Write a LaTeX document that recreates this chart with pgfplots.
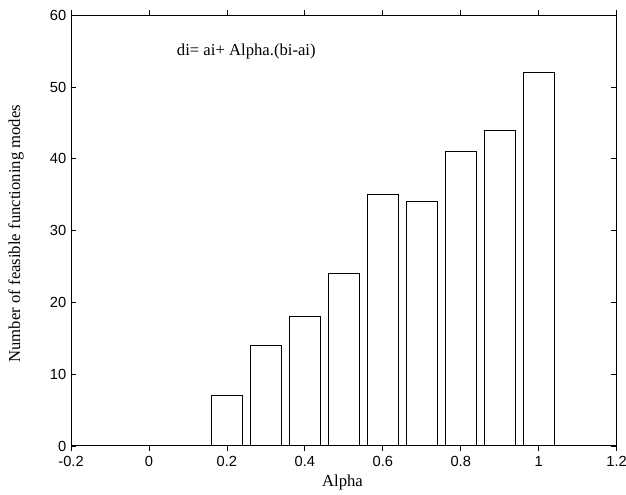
\documentclass[border=0pt]{standalone}
\usepackage{fontspec}
\setmainfont{Liberation Serif}
\newfontfamily\tickfont{Liberation Sans}
\usepackage{pgfplots}
\pgfplotsset{compat=1.18}
\usetikzlibrary{calc}

\begin{document}
\begin{tikzpicture}
\begin{axis}[
    scale only axis,
    width=409pt,
    height=322.8pt,
    xmin=-0.2, xmax=1.2,
    ymin=0, ymax=60,
    xtick={-0.2,0,0.2,0.4,0.6,0.8,1,1.2},
    ytick={0,10,20,30,40,50,60},
    tick align=inside,
    major tick length=4pt,
    tick style={black, line width=0.6pt},
    axis line style={black, line width=0.75pt},
    axis on top,
    /pgf/number format/assume math mode=true,
    ticklabel style={font=\tickfont\fontsize{11}{13}\selectfont},
    xlabel={Alpha},
    ylabel={Number of feasible functioning modes},
    label style={font=\fontsize{12.5}{15}\selectfont},
    xlabel style={at={(axis description cs:0.4975,-0.085)}, anchor=center},
    ylabel style={at={(axis description cs:-0.1008,0.493)}, anchor=center},
    ybar,
    bar width=0.08,
]
\addplot[fill=white, draw=black, line width=0.75pt] coordinates {
    (0.2,7) (0.3,14) (0.4,18) (0.5,24) (0.6,35)
    (0.7,34) (0.8,41) (0.9,44) (1.0,52)
};
\node[anchor=west, inner sep=0pt, font=\fontsize{12.5}{15}\selectfont] at (axis cs:0.071,54.9) {di= ai+ Alpha.(bi-ai)};
\end{axis}
\pgfresetboundingbox
\path ($(current axis.south west)+(-53.25pt,-36.2pt)$) rectangle ($(current axis.north east)+(7pt,11.5pt)$);
\end{tikzpicture}
\end{document}
